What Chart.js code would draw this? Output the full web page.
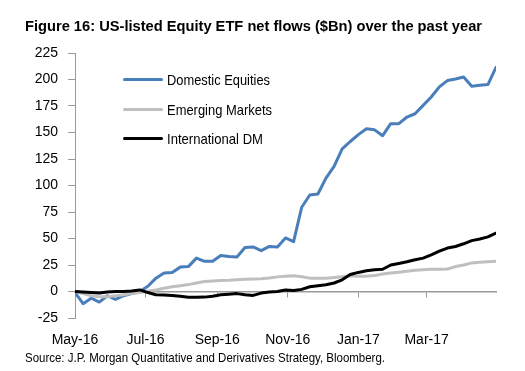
<!DOCTYPE html>
<html><head><meta charset="utf-8">
<script src="https://cdn.jsdelivr.net/npm/chart.js@4"></script>
<style>
html,body{margin:0;padding:0;background:#fff;width:525px;height:371px;overflow:hidden;}
#wrap{position:relative;width:525px;height:371px;}
canvas{position:absolute;left:0;top:0;}
.t{position:absolute;white-space:nowrap;transform-origin:0 0;color:#000;line-height:1;font-family:"Liberation Sans Narrow","Arial Narrow","Liberation Sans",Arial,sans-serif;}
.sw{position:absolute;height:3px;border-radius:1.5px;}
</style></head><body>
<div id="wrap">
<canvas id="c" width="525" height="371"></canvas>
<div id="title" class="t" style="font-weight:bold;font-size:15.5px;left:25px;top:17.6px;">Figure 16: US-listed Equity ETF net flows ($Bn) over the past year</div>
<div id="legend"></div>
<div id="source" class="t" style="font-size:13px;left:25px;top:351px;">Source: J.P. Morgan Quantitative and Derivatives Strategy, Bloomberg.</div>
</div>
<script>
const weekDates = [
 '2016-05-01','2016-05-08','2016-05-15','2016-05-22','2016-05-29',
 '2016-06-05','2016-06-12','2016-06-19','2016-06-26',
 '2016-07-03','2016-07-10','2016-07-17','2016-07-24','2016-07-31',
 '2016-08-07','2016-08-14','2016-08-21','2016-08-28',
 '2016-09-04','2016-09-11','2016-09-18','2016-09-25',
 '2016-10-02','2016-10-09','2016-10-16','2016-10-23','2016-10-30',
 '2016-11-06','2016-11-13','2016-11-20','2016-11-27',
 '2016-12-04','2016-12-11','2016-12-18','2016-12-25',
 '2017-01-01','2017-01-08','2017-01-15','2017-01-22','2017-01-29',
 '2017-02-05','2017-02-12','2017-02-19','2017-02-26',
 '2017-03-05','2017-03-12','2017-03-19','2017-03-26',
 '2017-04-02','2017-04-09','2017-04-16','2017-04-23','2017-04-30'];
const domestic = [-1,-11.5,-6.3,-10,-4,-7.5,-4,-2,0,5,
 12.6,17.5,18,23,23.5,31.5,28.5,28.5,34,33,
 32.5,41.5,42,38.5,42.5,42,50.5,47,79.5,91,
 92,107,118,134.5,141.5,148,153.5,152.5,147,158.3,
 158.3,164.6,167.7,175.6,183.5,193,199,200.5,202.4,193.6,
 194.6,195.2,211.5];
const emerging = [0,-2,-4,-5,-5,-4,-3,-2,-1,0.5,
 1.5,3,4.5,5.5,6.5,8,9.4,10,10.4,10.6,
 11,11.5,11.7,12,12.8,13.8,14.5,14.8,14,12.6,
 12.4,12.6,13.2,14,14.8,14.4,14.5,15,16.5,17.4,
 18.2,19,20,20.5,21,21,21.2,23.5,25,27,
 27.6,28,28.5];
const intlDM = [0,-0.5,-1,-1.5,-0.5,0,0,0.5,1.5,-1,
 -3,-3.3,-3.7,-4.5,-5.5,-5.5,-5.3,-4.5,-3,-2.5,
 -2,-3,-3.7,-1.5,-0.5,0,1.5,1,2,4.5,
 5.5,6.3,8,11,16,18,19.5,20.5,21,25,
 26.5,28,30,31.5,34.5,38,41,42.5,45,48,
 49.5,51.5,55];
const seriesNames = ['Domestic Equities','Emerging Markets','International DM'];
const seriesColors = ['#4a7ebb','#bfbfbf','#000000'];
const tickDates = ['2016-05-01','2016-07-01','2016-09-01','2016-11-01','2017-01-01','2017-03-01'];
const tickLabels = ['May-16','Jul-16','Sep-16','Nov-16','Jan-17','Mar-17'];

const t0 = Date.parse(weekDates[0]);
const dayOf = d => Math.round((Date.parse(d) - t0) / 864e5);
const tickDays = tickDates.map(dayOf);
const xMax = dayOf(weekDates[weekDates.length - 1]);
const seriesValues = [domestic, emerging, intlDM];

const datasets = seriesValues.map((vals, k) => ({
  label: seriesNames[k],
  data: weekDates.map((d, i) => ({x: dayOf(d), y: vals[i]})),
  borderColor: seriesColors[k],
  backgroundColor: seriesColors[k],
  borderWidth: 3,
  pointRadius: 0,
  tension: 0,
  fill: false,
  order: 2 - k
}));

const setTicks = s => { s.ticks = tickDays.map(v => ({value: v})); };
const AX = '#9a9a9a';
const tickFont = {family: '"Liberation Sans", Arial, sans-serif', size: 14};

new Chart(document.getElementById('c'), {
  type: 'line',
  data: {datasets},
  options: {
    responsive: false, animation: false, devicePixelRatio: 1,
    layout: {padding: {top: 53, right: 29, bottom: 0, left: 0}},
    plugins: {legend: {display: false}, tooltip: {enabled: false}},
    elements: {line: {borderCapStyle: 'round', borderJoinStyle: 'round'}},
    scales: {
      x: {
        type: 'linear', position: 'bottom', min: 0, max: xMax,
        afterBuildTicks: setTicks,
        ticks: {callback: (v, i) => tickLabels[i], font: tickFont, color: '#000', maxRotation: 0, minRotation: 0, autoSkip: false, padding: 14},
        grid: {display: false, drawTicks: false},
        border: {display: false},
        afterFit: s => { s.height = 53; }
      },
      x2: {
        type: 'linear', position: {y: 0}, min: 0, max: xMax,
        afterBuildTicks: setTicks,
        ticks: {display: false},
        grid: {drawOnChartArea: false, drawTicks: true, tickLength: 5, tickColor: AX, lineWidth: 1},
        border: {display: true, color: AX, width: 1.5},
        afterFit: s => { s.height = 0; }
      },
      y: {
        min: -25, max: 225,
        ticks: {stepSize: 25, font: tickFont, color: '#000', padding: 10},
        grid: {drawOnChartArea: false, drawTicks: true, tickLength: 7, tickColor: AX},
        border: {display: true, color: AX, width: 1},
        afterFit: s => { s.width = 75; }
      }
    }
  }
});

// legend (HTML), built from series names / colours
const legendRows = [79.5, 109, 138.5];
const legendWidths = [103, 105, 96];
const lg = document.getElementById('legend');
seriesNames.forEach((name, k) => {
  const sw = document.createElement('div');
  sw.className = 'sw';
  sw.style.left = '123px'; sw.style.width = '40px';
  sw.style.top = (legendRows[k] - 1.5) + 'px';
  sw.style.background = seriesColors[k];
  lg.appendChild(sw);
  const tx = document.createElement('div');
  tx.className = 't';
  tx.style.fontSize = '15px';
  tx.style.left = '167px';
  tx.style.top = (legendRows[k] - 7.5) + 'px';
  tx.textContent = name;
  tx.dataset.w = legendWidths[k];
  lg.appendChild(tx);
});
function fit(el, W) {
  const w = el.getBoundingClientRect().width;
  if (w > 0) el.style.transform = 'scaleX(' + (W / w) + ')';
}
fit(document.getElementById('title'), 457);
fit(document.getElementById('source'), 360);
lg.querySelectorAll('.t').forEach(el => fit(el, +el.dataset.w));
</script>
</body></html>
